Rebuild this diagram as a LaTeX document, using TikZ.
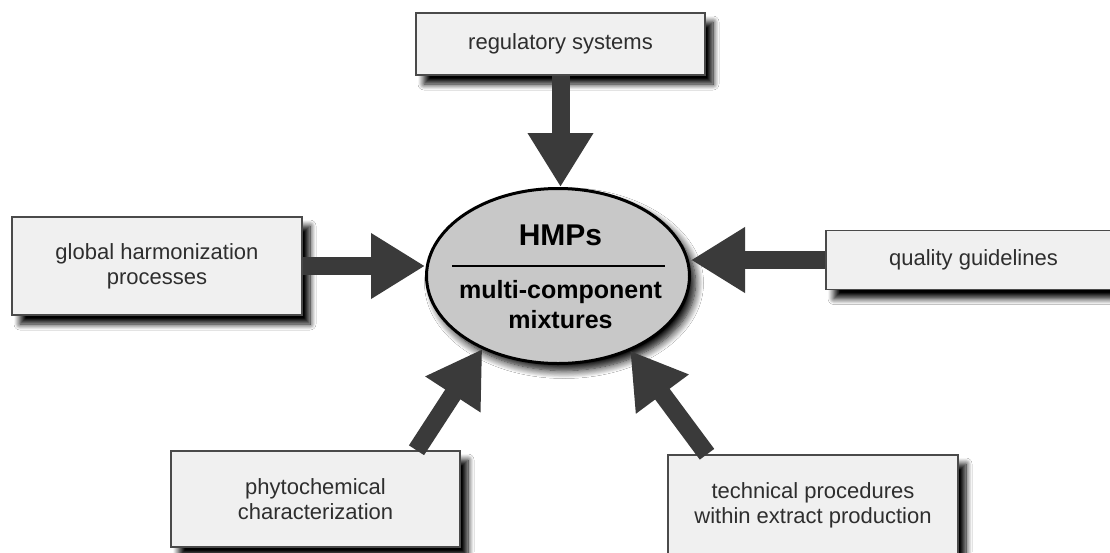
\documentclass[tikz,border=0pt]{standalone}
\usepackage{fontspec}
\setmainfont{Liberation Sans}
\usetikzlibrary{arrows.meta,shadows.blur,calc,shapes.geometric}
\definecolor{boxfill}{HTML}{F0F0F0}
\definecolor{boxline}{HTML}{4A4A4A}
\definecolor{txtgray}{HTML}{2E2E2E}
\definecolor{arrgray}{HTML}{3A3A3A}
\definecolor{ellfill}{HTML}{C8C8C8}
\tikzset{
  infobox/.style={rectangle, draw=boxline, line width=1.5pt, fill=boxfill,
    text=txtgray, align=center, inner sep=0pt,
    font=\fontsize{22}{25}\selectfont,
    blur shadow={shadow xshift=8pt, shadow yshift=-9pt, shadow blur radius=6pt,
      shadow blur steps=10, shadow opacity=100}},
  hub/.style={ellipse, draw=black, line width=3pt, fill=ellfill,
    minimum width=263pt, minimum height=175pt, inner sep=0pt,
    blur shadow={shadow xshift=6pt, shadow yshift=-7pt, shadow blur radius=8pt,
      shadow blur steps=10, shadow opacity=100}},
  hubtext/.style={text=black, anchor=base, inner sep=0pt},
  bigarrow/.style={draw=arrgray, line width=18pt,
    -{Triangle[length=54pt,width=62pt,fill=arrgray]}}
}
\begin{document}
\begin{tikzpicture}[x=1pt,y=-1pt]
\useasboundingbox (0,0) rectangle (1110,552);
\clip (0,0) rectangle (1110,552);
\fill[white] (0,0) rectangle (1110,552);

% boxes
\node[infobox, minimum width=289pt, minimum height=62pt] (reg) at (560.5,44) {regulatory systems};
\node[infobox, minimum width=290pt, minimum height=98pt] (glob) at (157,266) {global harmonization\\processes};
\node[infobox, minimum width=295pt, minimum height=59pt] (qual) at (973.5,260) {quality guidelines};
\node[infobox, minimum width=289pt, minimum height=96pt] (phy) at (315.5,499) {phytochemical\\characterization};
\node[infobox, minimum width=290pt, minimum height=100pt] (tech) at (813,505) {technical procedures\\within extract production};

% hub
\node[hub] (ell) at (558,276) {};
\node[hubtext, font=\bfseries\fontsize{30}{32}\selectfont] (hmps) at (560.5,245) {HMPs};
\coordinate (ruleL) at (452,266);
\coordinate (ruleR) at (665,266);
\draw[line width=2.5pt, black] (ruleL) -- (ruleR);
\node[hubtext, font=\bfseries\fontsize{25}{27}\selectfont] (mc) at (560.5,298) {multi-component};
\node[hubtext, font=\bfseries\fontsize{25}{27}\selectfont] (mix) at (560.5,328) {mixtures};

% arrows
\draw[bigarrow] (reg.south) -- (reg.south |- ell.north);
\draw[bigarrow] (glob.east) -- (glob.east -| ell.west);
\draw[bigarrow] (qual.west) -- (qual.west -| ell.east);
\draw[bigarrow] ([xshift=101pt]phy.north) -- (ell.224);
\draw[bigarrow] ([xshift=-106pt]tech.north) -- (ell.314);
\end{tikzpicture}
\end{document}
